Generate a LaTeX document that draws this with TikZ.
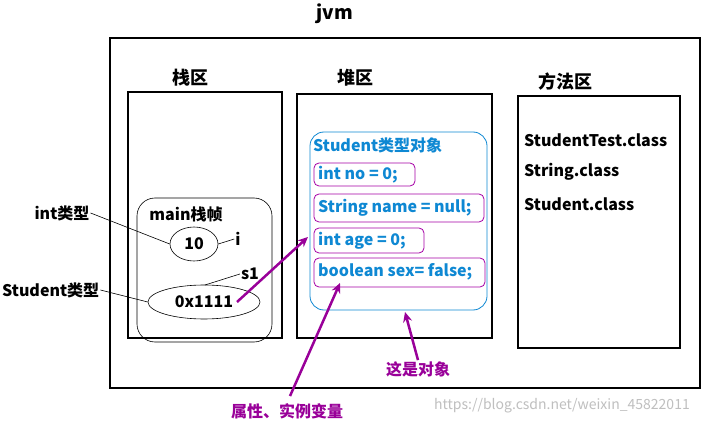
\documentclass[tikz,border=0pt]{standalone}
\usepackage{fontspec}
\setmainfont{Noto Sans CJK SC}
\usetikzlibrary{shapes.geometric,arrows.meta}
\begin{document}
\begin{tikzpicture}[x=1pt,y=-1pt,
  box/.style={draw,line width=2.5pt},
  t/.style={font=\bfseries\fontsize{16}{18}\selectfont,inner sep=1pt},
  bl/.style={t,text=cyan!70!blue},
  pu/.style={draw=violet!70!magenta,rounded corners=5pt,line width=0.8pt},
  par/.style={draw=violet!80!magenta,line width=2.5pt,-{Stealth[length=10pt,width=9pt]}},
  thin/.style={draw,line width=0.6pt}]
\useasboundingbox (0,0) rectangle (705,425);
\fill[white] (0,0) rectangle (705,425);
\node[t,font=\bfseries\fontsize{19}{21}\selectfont] (jvm) at (335,14) {jvm};
\draw[box] (110,38) rectangle (700,388);
\node[t,font=\bfseries\fontsize{18}{20}\selectfont] (zl) at (190,78) {栈区};
\draw[box] (128,92) rectangle (282,338);
\node[t,font=\bfseries\fontsize{18}{20}\selectfont] (dl) at (355,78) {堆区};
\draw[box] (297,94) rectangle (492,338);
\node[t,font=\bfseries\fontsize{18}{20}\selectfont] (fl) at (565,82) {方法区};
\draw[box] (518,96) rectangle (680,348);
\draw[thin,rounded corners=18pt] (137,198) rectangle (272,342);
\node[t] (mf) at (186,214) {main栈帧};
\node[t,draw,ellipse,line width=0.6pt,minimum width=48pt,minimum height=34pt,inner sep=0pt] (e10) at (194,244) {10};
\node[t] (i) at (238,239) {i};
\node[t] (s1) at (250,274) {s1};
\node[t,draw,ellipse,line width=0.6pt,minimum width=112pt,minimum height=34pt,inner sep=0pt] (e0x) at (204,302) {0x1111};
\node[t] (it) at (62,213) {int类型};
\node[t,anchor=west] (st) at (1,290) {Student类型};
\draw[thin] (it.east) -- (e10.west);
\draw[thin] (st.east) -- (e0x.west);
\draw[thin] (e10.east) -- (i.west);
\draw[thin] (205,285) -- (s1.west);
\draw[draw=cyan!70!blue,line width=0.8pt,rounded corners=14pt] (310,132) rectangle (487,310);
\node[bl,anchor=west] (ot) at (312,145) {Student类型对象};
\draw[pu] (314,163) rectangle (415,186); \node[bl,anchor=west] (f1) at (317,175) {int no = 0;};
\draw[pu] (314,194) rectangle (484,222); \node[bl,anchor=west] (f2) at (317,208) {String name = null;};
\draw[pu] (314,228) rectangle (424,253); \node[bl,anchor=west] (f3) at (317,241) {int age = 0;};
\draw[pu] (314,258) rectangle (485,287); \node[bl,anchor=west] (f4) at (317,272) {boolean sex= false;};
\coordinate (a1) at (237,302); \coordinate (a1e) at (308,237);
\draw[par] (a1) -- (a1e);
\node[t,text=violet!80!magenta] (sx) at (287,411) {属性、实例变量};
\coordinate (a2e) at (340,283);
\draw[par] (sx.north) ++(3,-6) -- (a2e);
\node[t,text=violet!80!magenta] (dx) at (418,369) {这是对象};
\coordinate (a3e) at (405,312);
\draw[par] (dx.north) -- (a3e);
\node[t,anchor=west] (m1) at (523,140) {StudentTest.class};
\node[t,anchor=west] (m2) at (523,172) {String.class};
\node[t,anchor=west] (m3) at (523,204) {Student.class};
\node[text=gray!50,font=\fontsize{14}{16}\selectfont] (wm) at (562,406) {https://blog.csdn.net/weixin\_45822011};
\end{tikzpicture}
\end{document}
